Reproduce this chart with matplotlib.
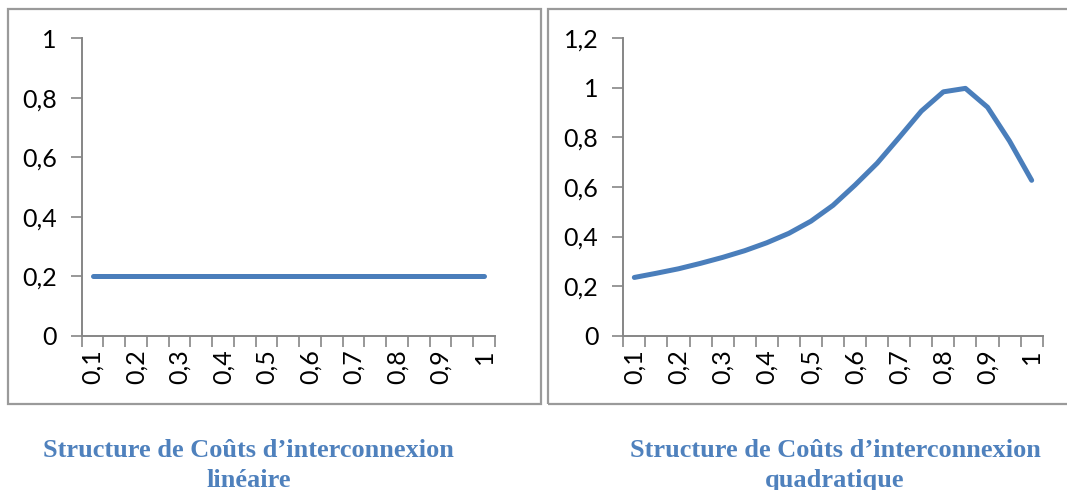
import numpy as np
import matplotlib.pyplot as plt
from matplotlib.patches import Rectangle

# categories 0,1 ... 1 by step of 0,05 (only every other label is shown)
categories = [0.10, 0.15, 0.20, 0.25, 0.30, 0.35, 0.40, 0.45, 0.50, 0.55,
              0.60, 0.65, 0.70, 0.75, 0.80, 0.85, 0.90, 0.95, 1.00]
cout_lineaire = [0.2] * 19
cout_quadratique = [0.235, 0.252, 0.270, 0.292, 0.316, 0.343, 0.375, 0.413, 0.462, 0.526,
                    0.608, 0.696, 0.800, 0.906, 0.984, 0.998, 0.922, 0.785, 0.627]
x_labels = ["0,1", "0,2", "0,3", "0,4", "0,5", "0,6", "0,7", "0,8", "0,9", "1"]
y_ticks_lin = [0, 0.2, 0.4, 0.6, 0.8, 1.0]
y_ticks_quad = [0, 0.2, 0.4, 0.6, 0.8, 1.0, 1.2]
titre_1 = ["Structure de Coûts d\u2019interconnexion", "linéaire"]
titre_2 = ["Structure de Coûts d\u2019interconnexion", "quadratique"]

W, H = 1067, 490
BLEU = "#4A7EBB"
GRIS = "#868686"
CAPTION = "#4F81BD"

plt.rcParams['font.family'] = ['Lato', 'DejaVu Sans']

fig = plt.figure(figsize=(W / 100, H / 100), dpi=100)

# cadres des graphiques (style Excel)
for x0, x1 in [(8, 541), (548, 1075)]:
    fig.patches.append(Rectangle((x0 / W, 1 - 404 / H), (x1 - x0) / W, (404 - 9) / H,
                                 transform=fig.transFigure, fill=False,
                                 edgecolor="#9a9a9a", lw=1.6))


def fmt(v):
    s = ("%g" % round(v, 1)).replace(".", ",")
    return s


def tracer(rect, valeurs, yticks):
    ax = fig.add_axes(rect)
    n = len(categories)
    idx = np.arange(n)
    ax.plot(idx, valeurs, color=BLEU, lw=3.6, solid_capstyle='round',
            solid_joinstyle='round')
    ax.set_xlim(-0.5, n - 0.5)
    ax.set_ylim(yticks[0], yticks[-1])
    ax.set_yticks(yticks)
    ax.set_yticklabels([fmt(v) for v in yticks], fontsize=18)
    ax.set_xticks(np.arange(-0.5, n, 1.0))
    ax.set_xticklabels([])
    ax.set_xticks(idx[::2], minor=True)
    ax.set_xticklabels(x_labels, minor=True, rotation=90, fontsize=18)
    ax.tick_params(axis='x', which='major', length=8, width=1.2, color=GRIS,
                   direction='out')
    ax.tick_params(axis='x', which='minor', length=0, pad=10)
    ax.tick_params(axis='y', length=8, width=1.2, color=GRIS, direction='out', pad=10)
    for s in ['top', 'right']:
        ax.spines[s].set_visible(False)
    for s in ['left', 'bottom']:
        ax.spines[s].set_color(GRIS)
        ax.spines[s].set_linewidth(1.4)
    ax.patch.set_alpha(0)
    return ax


bas = 1 - 335.7 / H
haut = 297.4 / H
tracer([81.7 / W, bas, (495 - 81.7) / W, haut], cout_lineaire, y_ticks_lin)
tracer([623.3 / W, bas, (1042.7 - 623.3) / W, haut], cout_quadratique, y_ticks_quad)

# légendes sous les graphiques
for cx, lignes in [(248.7, titre_1), (835, titre_2)]:
    fig.text(cx / W, 1 - 457.3 / H, lignes[0], ha='center', va='baseline',
             family='Liberation Serif', weight='bold', fontsize=19, color=CAPTION)
    fig.text(cx / W, 1 - 486.7 / H, lignes[1], ha='center', va='baseline',
             family='Liberation Serif', weight='bold', fontsize=19, color=CAPTION)

fig.savefig("out.png", dpi=100)
